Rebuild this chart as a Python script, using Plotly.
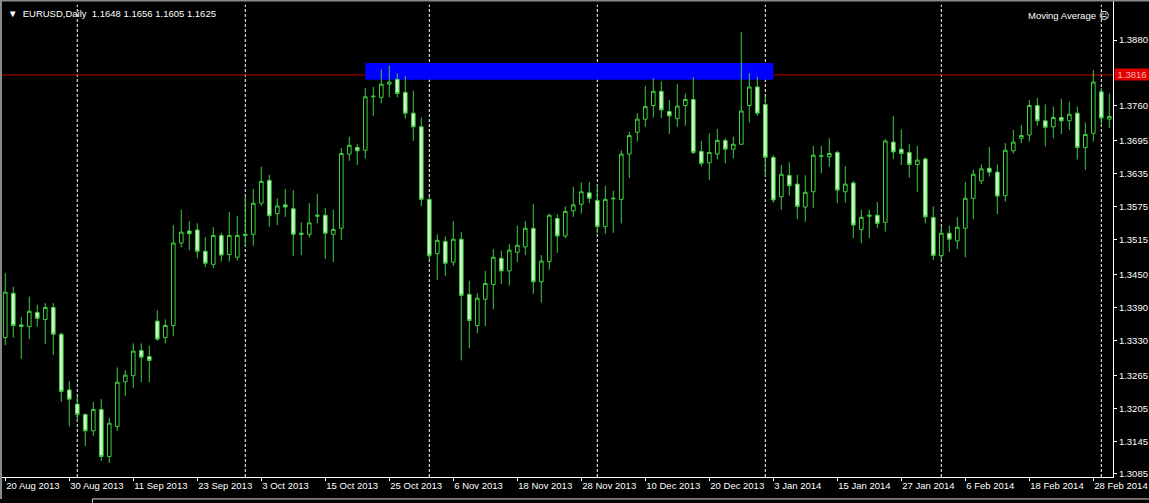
import plotly.graph_objects as go

# ---- data (EURUSD daily) ----
bar_index = list(range(139))
open_ = [1.3335,1.3416,1.3358,1.3355,1.3381,1.3368,1.3390,1.3341,1.3239,1.3213,
         1.3194,1.3164,1.3203,1.3117,1.3172,1.3254,1.3265,1.3311,1.3300,1.3365,
         1.3335,1.3357,1.3508,1.3530,1.3532,1.3493,1.3469,1.3522,1.3487,1.3482,
         1.3522,1.3524,1.3581,1.3623,1.3562,1.3578,1.3571,1.3526,1.3524,1.3557,
         1.3559,1.3524,1.3535,1.3671,1.3683,1.3678,1.3776,1.3775,1.3799,1.3808,
         1.3784,1.3746,1.3721,1.3588,1.3489,1.3511,1.3473,1.3515,1.3414,1.3357,
         1.3405,1.3432,1.3480,1.3457,1.3491,1.3501,1.3535,1.3437,1.3474,1.3553,
         1.3521,1.3567,1.3579,1.3600,1.3586,1.3538,1.3589,1.3588,1.3671,1.3711,
         1.3735,1.3760,1.3786,1.3749,1.3736,1.3760,1.3771,1.3676,1.3655,1.3671,
         1.3696,1.3680,1.3689,1.3760,1.3794,1.3762,1.3665,1.3593,1.3632,1.3616,
         1.3574,1.3602,1.3667,1.3666,1.3674,1.3602,1.3618,1.3533,1.3557,1.3559,
         1.3546,1.3693,1.3680,1.3674,1.3652,1.3662,1.3555,1.3485,1.3526,1.3512,
         1.3535,1.3590,1.3622,1.3645,1.3638,1.3595,1.3677,1.3700,1.3706,1.3760,
         1.3732,1.3721,1.3738,1.3732,1.3746,1.3683,1.3709,1.3785,1.3735]
high = [1.3453,1.3428,1.3373,1.3410,1.3395,1.3398,1.3398,1.3344,1.3255,1.3227,
        1.3196,1.3217,1.3222,1.3188,1.3280,1.3275,1.3324,1.3324,1.3320,1.3385,
        1.3368,1.3541,1.3569,1.3548,1.3544,1.3519,1.3537,1.3527,1.3565,1.3558,
        1.3593,1.3607,1.3648,1.3633,1.3590,1.3607,1.3605,1.3546,1.3581,1.3598,
        1.3572,1.3569,1.3682,1.3703,1.3689,1.3792,1.3794,1.3826,1.3833,1.3819,
        1.3814,1.3787,1.3738,1.3593,1.3524,1.3520,1.3548,1.3528,1.3439,1.3416,
        1.3457,1.3497,1.3494,1.3506,1.3540,1.3548,1.3580,1.3486,1.3562,1.3561,
        1.3575,1.3611,1.3619,1.3620,1.3614,1.3613,1.3604,1.3678,1.3712,1.3746,
        1.3796,1.3810,1.3804,1.3770,1.3799,1.3782,1.3812,1.3695,1.3709,1.3717,
        1.3700,1.3703,1.3895,1.3819,1.3813,1.3776,1.3669,1.3651,1.3656,1.3633,
        1.3632,1.3686,1.3686,1.3700,1.3677,1.3649,1.3622,1.3569,1.3569,1.3583,
        1.3698,1.3741,1.3716,1.3689,1.3686,1.3665,1.3575,1.3538,1.3540,1.3555,
        1.3620,1.3642,1.3652,1.3684,1.3652,1.3691,1.3715,1.3724,1.3770,1.3774,
        1.3762,1.3758,1.3772,1.3767,1.3758,1.3729,1.3825,1.3792,1.3782]
low = [1.3321,1.3335,1.3296,1.3332,1.3355,1.3323,1.3303,1.3217,1.3172,1.3181,
       1.3136,1.3155,1.3109,1.3105,1.3164,1.3228,1.3243,1.3253,1.3253,1.3329,
       1.3324,1.3337,1.3500,1.3495,1.3480,1.3464,1.3462,1.3474,1.3474,1.3476,
       1.3501,1.3503,1.3576,1.3538,1.3541,1.3556,1.3484,1.3486,1.3518,1.3544,
       1.3479,1.3473,1.3514,1.3659,1.3651,1.3663,1.3741,1.3764,1.3775,1.3775,
       1.3736,1.3695,1.3576,1.3477,1.3440,1.3448,1.3466,1.3293,1.3315,1.3343,
       1.3356,1.3387,1.3433,1.3430,1.3473,1.3486,1.3415,1.3399,1.3459,1.3490,
       1.3517,1.3556,1.3562,1.3581,1.3526,1.3525,1.3527,1.3544,1.3627,1.3694,
       1.3721,1.3738,1.3737,1.3708,1.3721,1.3723,1.3671,1.3648,1.3624,1.3661,
       1.3654,1.3663,1.3688,1.3729,1.3741,1.3630,1.3582,1.3569,1.3595,1.3552,
       1.3547,1.3572,1.3636,1.3648,1.3581,1.3582,1.3517,1.3508,1.3517,1.3535,
       1.3529,1.3662,1.3651,1.3628,1.3602,1.3544,1.3477,1.3476,1.3492,1.3497,
       1.3482,1.3552,1.3616,1.3630,1.3561,1.3584,1.3672,1.3691,1.3694,1.3723,
       1.3685,1.3700,1.3708,1.3715,1.3661,1.3642,1.3694,1.3724,1.3719]
close = [1.3418,1.3357,1.3355,1.3383,1.3370,1.3390,1.3341,1.3236,1.3222,1.3194,
         1.3164,1.3203,1.3117,1.3178,1.3253,1.3266,1.3310,1.3299,1.3293,1.3332,
         1.3357,1.3508,1.3528,1.3525,1.3493,1.3471,1.3522,1.3486,1.3522,1.3522,
         1.3524,1.3581,1.3621,1.3558,1.3576,1.3574,1.3524,1.3524,1.3545,1.3559,
         1.3526,1.3533,1.3672,1.3687,1.3677,1.3776,1.3777,1.3799,1.3803,1.3782,
         1.3746,1.3721,1.3588,1.3485,1.3513,1.3471,1.3515,1.3412,1.3366,1.3407,
         1.3434,1.3482,1.3457,1.3495,1.3504,1.3535,1.3437,1.3475,1.3559,1.3521,
         1.3566,1.3578,1.3602,1.3590,1.3538,1.3588,1.3590,1.3671,1.3705,1.3735,
         1.3758,1.3786,1.3752,1.3741,1.3759,1.3771,1.3674,1.3654,1.3674,1.3696,
         1.3680,1.3689,1.3750,1.3794,1.3746,1.3665,1.3587,1.3634,1.3613,1.3575,
         1.3601,1.3669,1.3668,1.3672,1.3605,1.3616,1.3541,1.3555,1.3559,1.3544,
         1.3695,1.3675,1.3672,1.3652,1.3660,1.3556,1.3485,1.3526,1.3515,1.3537,
         1.3590,1.3634,1.3644,1.3638,1.3594,1.3678,1.3693,1.3705,1.3760,1.3732,
         1.3720,1.3738,1.3732,1.3744,1.3683,1.3707,1.3803,1.3737,1.3740]

date_tick_bars = list(range(0, 137, 8))
date_tick_labels = ["20 Aug 2013", "30 Aug 2013", "11 Sep 2013", "23 Sep 2013", "3 Oct 2013",
                    "15 Oct 2013", "25 Oct 2013", "6 Nov 2013", "18 Nov 2013", "28 Nov 2013",
                    "10 Dec 2013", "20 Dec 2013", "3 Jan 2014", "15 Jan 2014", "27 Jan 2014",
                    "6 Feb 2014", "18 Feb 2014", "28 Feb 2014"]
month_separator_bars = [9, 30, 53, 74, 95, 117, 137]
price_ticks = [1.3880, 1.3760, 1.3695, 1.3635, 1.3575, 1.3515, 1.3450,
               1.3390, 1.3330, 1.3265, 1.3205, 1.3145, 1.3085]
current_price = 1.3816
zone_bars = [45, 96]
zone_prices = [1.3807, 1.3838]
header_text = "EURUSD,Daily\u00a0\u00a01.1648 1.1656 1.1605 1.1625"

GREEN = "#3ecf3e"
BEAR_FILL = "#ccf5c8"
FONT = "Liberation Sans"

fig = go.Figure()
fig.add_trace(go.Candlestick(
    x=bar_index, open=open_, high=high, low=low, close=close,
    increasing=dict(line=dict(color=GREEN, width=1), fillcolor="black"),
    decreasing=dict(line=dict(color=GREEN, width=1), fillcolor=BEAR_FILL),
    whiskerwidth=0, hoverinfo="skip", showlegend=False,
))

shapes = []
# blue zone rectangle (behind candles)
shapes.append(dict(type="rect", xref="x", yref="y", x0=zone_bars[0], x1=zone_bars[1],
                   y0=zone_prices[0], y1=zone_prices[1], fillcolor="#0000ff",
                   line=dict(width=0), layer="below"))
# month separators
for b in month_separator_bars:
    shapes.append(dict(type="line", xref="x", yref="paper", x0=b, x1=b, y0=0, y1=0.99,
                       line=dict(color="white", width=1, dash="3px,2px"), layer="below"))
# current price line
shapes.append(dict(type="line", xref="paper", yref="y", x0=0, x1=1, y0=current_price,
                   y1=current_price, line=dict(color="#c00000", width=1), layer="below"))
# window borders (top and left edges, bottom tab strip)
shapes.append(dict(type="line", xref="paper", yref="paper", x0=0, x1=1.0324, y0=0.999, y1=0.999,
                   line=dict(color="#8a8a8a", width=2)))
shapes.append(dict(type="line", xref="paper", yref="paper", x0=0.0009, x1=0.0009, y0=-0.046, y1=1,
                   line=dict(color="#8a8a8a", width=2)))
shapes.append(dict(type="rect", xref="paper", yref="paper", x0=0.083, x1=1.04, y0=-0.06, y1=-0.046,
                   fillcolor="black", line=dict(color="#d8d8d8", width=1)))

fig.update_layout(
    width=1149, height=503,
    margin=dict(l=0, r=36, t=0, b=26, autoexpand=False),
    paper_bgcolor="black", plot_bgcolor="black",
    showlegend=False, boxgap=0.35,
    shapes=shapes,
    xaxis=dict(
        range=[-0.66, 138.46], tickmode="array", tickvals=date_tick_bars,
        ticktext=date_tick_labels, ticks="outside", ticklen=3, tickcolor="white",
        showline=True, linecolor="white", linewidth=1, showgrid=False, zeroline=False,
        ticklabelposition="outside right", automargin=False,
        tickfont=dict(color="white", size=9.5, family=FONT),
        rangeslider=dict(visible=False), fixedrange=True,
    ),
    yaxis=dict(
        side="right", range=[1.30794, 1.39533], tickmode="array", tickvals=price_ticks,
        ticktext=[f"{v:.4f}" for v in price_ticks], ticks="outside", ticklen=3,
        tickcolor="white", showline=True, linecolor="white", linewidth=1,
        showgrid=False, zeroline=False, automargin=False,
        tickfont=dict(color="white", size=9.5, family=FONT), fixedrange=True,
    ),
    annotations=[
        dict(xref="paper", yref="paper", x=0, y=1, xanchor="left", yanchor="top",
             xshift=6, yshift=-6, showarrow=False,
             text="\u25BC\u00a0\u00a0" + header_text,
             font=dict(color="white", size=9.5, family=FONT)),
        dict(xref="paper", yref="paper", x=1, y=1, xanchor="right", yanchor="top",
             xshift=-2, yshift=-8, showarrow=False,
             text="Moving Average\u00a0\u2639",
             font=dict(color="white", size=9.5, family=FONT)),
        dict(xref="paper", yref="y", x=1, y=current_price, xanchor="left", yanchor="middle",
             xshift=1, showarrow=False, text=f"{current_price:.4f}",
             bgcolor="#e00000", font=dict(color="#ffb0b0", size=9.5, family=FONT),
             width=34, height=11, borderpad=0),
    ],
)

fig.write_html("out.html", config={"displayModeBar": False},
               post_script="document.body.style.margin='0';document.body.style.background='black';")
